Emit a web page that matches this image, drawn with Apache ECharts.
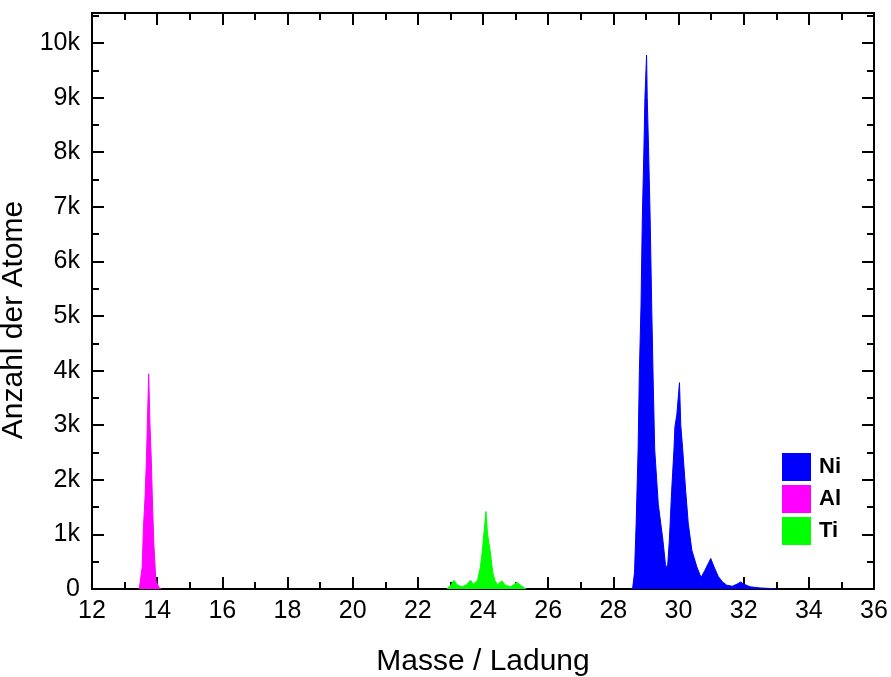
<!DOCTYPE html>
<html>
<head>
<meta charset="utf-8">
<script src="https://cdn.jsdelivr.net/npm/echarts@6/dist/echarts.min.js"></script>
<style>
  html, body { margin: 0; padding: 0; background: #fff; }
  #chart { width: 891px; height: 677px; }
</style>
</head>
<body>
<div id="chart"></div>
<script>
/* ── Data: mass-to-charge vs. atom count ── */
const alMz    = [13.45, 13.49, 13.54, 13.58, 13.63, 13.67, 13.74, 13.78, 13.82, 13.86, 13.90, 13.96, 14.05, 14.12];
const alCount = [0, 0, 400, 1140, 1700, 2360, 3940, 3000, 2360, 1500, 800, 150, 30, 0];

const tiMz    = [22.89, 23.00, 23.11, 23.20, 23.35, 23.50, 23.62, 23.70, 23.83, 23.92, 23.98, 24.04, 24.09,
                 24.14, 24.22, 24.30, 24.37, 24.45, 24.58, 24.68, 24.85, 25.04, 25.15, 25.32];
const tiCount = [0, 60, 160, 80, 40, 80, 160, 90, 150, 400, 700, 1100, 1420,
                 1000, 700, 300, 150, 80, 150, 70, 40, 120, 70, 0];

const niMz    = [28.50, 28.59, 28.65, 28.70, 28.76, 28.80, 28.85, 28.89, 28.94, 28.97, 29.02, 29.04, 29.08,
                 29.13, 29.18, 29.22, 29.27, 29.38, 29.52, 29.60, 29.66, 29.72, 29.79, 29.86, 29.89, 29.95,
                 30.03, 30.07, 30.13, 30.22, 30.30, 30.41, 30.56, 30.62, 30.69, 30.80, 30.99, 31.08, 31.22,
                 31.35, 31.48, 31.65, 31.80, 31.91, 32.00, 32.20, 32.50, 32.80, 33.00];
const niCount = [0, 0, 300, 1200, 2550, 4000, 5200, 6800, 8100, 9000, 9780, 9000, 8100,
                 6800, 5100, 3900, 2550, 1550, 900, 450, 360, 900, 1800, 2550, 2970, 3200,
                 3780, 3000, 2550, 1800, 1200, 710, 410, 320, 210, 330, 560, 420, 230,
                 130, 70, 50, 90, 130, 90, 40, 20, 10, 0];

const xTicks = { min: 12, max: 36, interval: 2 };
const yTicks = { min: 0, max: 10550, major: 1000, minor: 500 };

const zip = (xs, ys) => xs.map((x, i) => [x, ys[i]]);

const FONT = '"Liberation Sans", Arial, sans-serif';

/* ── Axis helpers: boxed frame with inward ticks ── */
function xAxisDef(position, showLabels) {
    return {
        type: 'value',
        position,
        min: xTicks.min,
        max: xTicks.max,
        interval: xTicks.interval,
        name: showLabels ? 'Masse / Ladung' : '',
        nameLocation: 'middle',
        nameGap: 58,
        nameTextStyle: { fontFamily: FONT, fontSize: 30, color: '#000' },
        axisLine: { show: true, onZero: false, lineStyle: { color: '#000', width: 2 } },
        axisTick: { show: true, inside: true, length: 12, lineStyle: { color: '#000', width: 2 } },
        minorTick: { show: true, splitNumber: 2, length: 7, lineStyle: { color: '#000', width: 2 } },
        axisLabel: { show: showLabels, margin: 10, fontFamily: FONT, fontSize: 25, color: '#000' },
        splitLine: { show: false },
    };
}

function yAxisDef(position, step, len, showLabels) {
    return {
        type: 'value',
        position,
        min: yTicks.min,
        max: yTicks.max,
        interval: step,
        name: showLabels ? 'Anzahl der Atome' : '',
        nameLocation: 'middle',
        nameGap: 42,
        nameTextStyle: { fontFamily: FONT, fontSize: 30, color: '#000', padding: [0, 38, 0, 0] },
        axisLine: { show: true, onZero: false, lineStyle: { color: '#000', width: 2 } },
        axisTick: { show: true, inside: true, length: len, lineStyle: { color: '#000', width: 2 } },
        axisLabel: {
            show: showLabels,
            margin: 12,
            fontFamily: FONT,
            fontSize: 25,
            color: '#000',
            showMaxLabel: false,
            formatter: (v) => (v === 0 ? '0' : (v % 1000 === 0 ? v / 1000 + 'k' : '')),
        },
        splitLine: { show: false },
    };
}

function areaSeries(name, color, xs, ys) {
    return {
        name,
        type: 'line',
        data: zip(xs, ys),
        symbol: 'none',
        lineStyle: { color, width: 1 },
        areaStyle: { color, opacity: 1 },
        itemStyle: { color },
        animation: false,
    };
}

const chart = echarts.init(document.getElementById('chart'), null, { renderer: 'canvas' });

chart.setOption({
    animation: false,
    backgroundColor: '#fff',
    grid: { left: 92, right: 17, top: 13, bottom: 88, containLabel: false, outerBoundsMode: 'none' },
    legend: {
        orient: 'vertical',
        left: 777,
        top: 448,
        itemWidth: 29,
        itemHeight: 28,
        itemGap: 4,
        icon: 'rect',
        data: ['Ni', 'Al', 'Ti'],
        textStyle: { fontFamily: FONT, fontSize: 22, fontWeight: 'bold', color: '#000', padding: [0, 0, 0, 3] },
    },
    xAxis: [xAxisDef('bottom', true), xAxisDef('top', false)],
    yAxis: [
        yAxisDef('left', yTicks.major, 12, true),
        yAxisDef('left', yTicks.minor, 7, false),
        yAxisDef('right', yTicks.major, 12, false),
        yAxisDef('right', yTicks.minor, 7, false),
    ],
    series: [
        areaSeries('Al', '#FF00FF', alMz, alCount),
        areaSeries('Ti', '#00FF00', tiMz, tiCount),
        areaSeries('Ni', '#0000FF', niMz, niCount),
    ],
});
</script>
</body>
</html>
